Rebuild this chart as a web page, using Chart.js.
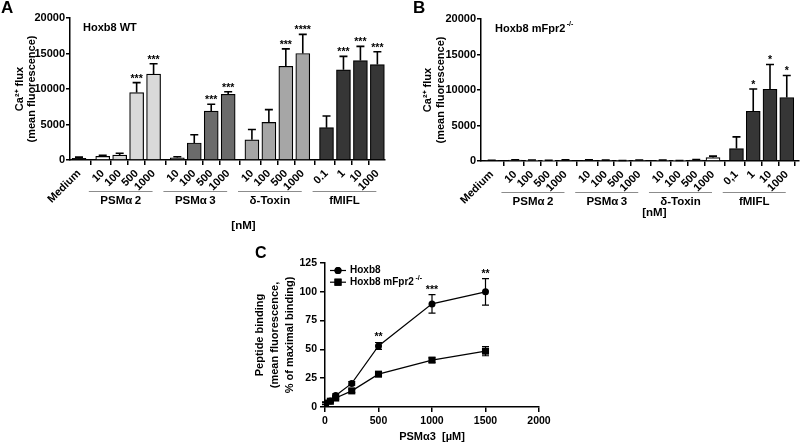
<!DOCTYPE html>
<html>
<head>
<meta charset="utf-8">
<script src="https://cdn.jsdelivr.net/npm/chart.js@4.4.1/dist/chart.umd.min.js"></script>
<style>
  body { margin: 0; background: #fff; }
  #page { position: relative; width: 800px; height: 444px; overflow: hidden; }
  canvas { position: absolute; }
  #chartA { left: 0; top: 0; }
  #chartB { left: 400px; top: 0; }
  #chartC { left: 240px; top: 240px; }
</style>
</head>
<body>
<div id="page">
  <canvas id="chartA" width="400" height="240"></canvas>
  <canvas id="chartB" width="400" height="240"></canvas>
  <canvas id="chartC" width="320" height="204"></canvas>
</div>
<script>
// --- data ---
const groupNames = ['PSMα\u20092', 'PSMα\u20093', 'δ-Toxin', 'fMIFL'];
const doseLabelsA = ['Medium', '10', '100', '500', '1000', '10', '100', '500', '1000',
  '10', '100', '500', '1000', '0.1', '1', '10', '1000'];
const doseLabelsB = ['Medium', '10', '100', '500', '1000', '10', '100', '500', '1000',
  '10', '100', '500', '1000', '0,1', '1', '10', '1000'];

// panel A: Hoxb8 WT, Ca2+ flux
const wtMeans = [250, 500, 700, 9500, 12100, 300, 2400, 6900, 9250, 2850, 5300, 13200, 15000, 4550, 12700, 14000, 13450];
const wtErrors = [150, 150, 250, 1400, 1450, 150, 1150, 950, 370, 1450, 1800, 2450, 2700, 1650, 1900, 2000, 1800];
const wtStars = ['', '', '', '***', '***', '', '', '***', '***', '', '', '***', '****', '', '***', '***', '***'];

// panel B: Hoxb8 mFpr2-/-
const koMeans = [60, 120, 90, 60, 100, 110, 70, 40, 90, 70, 40, 130, 480, 1750, 7000, 10100, 8950];
const koErrors = [50, 60, 60, 50, 60, 60, 50, 40, 50, 50, 40, 60, 200, 1650, 3150, 3500, 3100];
const koStars = ['', '', '', '', '', '', '', '', '', '', '', '', '', '', '*', '*', '*'];

const fluxTicks = [0, 5000, 10000, 15000, 20000];

// panel C: peptide binding
const concC = [5, 50, 100, 250, 500, 1000, 1500];
const bindingWT = [3.5, 5.2, 10, 20.5, 53, 89.5, 100];
const bindingWTErr = [1, 1, 1.5, 1.5, 3, 8, 11.5];
const bindingKO = [3, 5, 7.8, 14, 28.5, 40.7, 48.5];
const bindingKOErr = [1, 1, 1, 1.5, 2, 2, 4];
const starsC = ['', '', '', '', '**', '***', '**'];
const bindingTicks = [0, 25, 50, 75, 100, 125];
const concTicks = [0, 500, 1000, 1500, 2000];

// bar fills
const fillsA = ['#1e1e1e', '#ffffff', '#d9d9d9', '#d9d9d9', '#d9d9d9',
  '#6b6b6b', '#6b6b6b', '#6b6b6b', '#6b6b6b',
  '#a6a6a6', '#a6a6a6', '#a6a6a6', '#a6a6a6',
  '#363636', '#363636', '#363636', '#363636'];
const fillsB = fillsA.slice();
fillsB[12] = '#ffffff';

const FONT = '"Liberation Sans", Arial, Helvetica, sans-serif';
Chart.defaults.font.family = FONT;
Chart.defaults.font.size = 11;
Chart.defaults.font.weight = 'bold';
Chart.defaults.color = '#000';
Chart.defaults.animation = false;

// bar slots: medium, then 4 groups of 4 with a little extra space between groups
function barPositions(gap) {
  const xs = [0];
  for (let g = 0; g < 4; g++) {
    for (let i = 0; i < 4; i++) xs.push(1 + g * (4 + gap) + gap + i);
  }
  return xs;
}

function drawSup(ctx, base, sup, x, y, size) {
  ctx.textAlign = 'left';
  ctx.textBaseline = 'middle';
  ctx.font = `bold ${size}px ${FONT}`;
  ctx.fillText(base, x, y);
  const w = ctx.measureText(base).width;
  ctx.font = `bold ${Math.round(size * 0.65)}px ${FONT}`;
  ctx.fillText(sup, x + w + 1.5, y - size * 0.42);
}

function axisBorder(tickLen) {
  return {
    grid: { display: true, drawOnChartArea: false, drawTicks: true, tickLength: tickLen, color: '#000', lineWidth: 1.5 },
    border: { display: true, color: '#000', width: 1.5 }
  };
}

function barPanel(id, cfg) {
  const xs = barPositions(0.4);

  const extras = {
    id: 'extras_' + id,
    afterDatasetsDraw(chart) {
      const { ctx, chartArea: area, scales: { x, y } } = chart;
      const meta = chart.getDatasetMeta(0);
      ctx.save();

      // error bars (upper only) + significance stars
      ctx.strokeStyle = '#000';
      ctx.fillStyle = '#000';
      ctx.lineWidth = 1.6;
      meta.data.forEach((bar, i) => {
        const top = y.getPixelForValue(cfg.means[i] + cfg.errors[i]);
        ctx.beginPath();
        ctx.moveTo(bar.x, bar.y);
        ctx.lineTo(bar.x, top);
        ctx.moveTo(bar.x - 4, top);
        ctx.lineTo(bar.x + 4, top);
        ctx.stroke();
        if (cfg.stars[i]) {
          ctx.font = `bold 10.5px ${FONT}`;
          ctx.textAlign = 'center';
          ctx.textBaseline = 'alphabetic';
          ctx.fillText(cfg.stars[i], bar.x, top - 1);
        }
      });

      // group brackets under the dose labels
      groupNames.forEach((name, g) => {
        const x0 = x.getPixelForValue(xs[1 + g * 4] - 0.82);
        const x1 = x.getPixelForValue(xs[4 + g * 4] - 0.06);
        const ly = area.bottom + 31.5;
        ctx.strokeStyle = '#8c8c8c';
        ctx.lineWidth = 1;
        ctx.beginPath();
        ctx.moveTo(x0, ly);
        ctx.lineTo(x1, ly);
        ctx.stroke();
        ctx.font = `bold 11.5px ${FONT}`;
        ctx.textAlign = 'center';
        ctx.textBaseline = 'middle';
        ctx.fillText(name, (x0 + x1) / 2, area.bottom + 41);
      });

      ctx.font = `bold 11.5px ${FONT}`;
      ctx.textAlign = 'center';
      ctx.fillText('[nM]', x.getPixelForValue(9.7), area.bottom + cfg.unitDy);

      // panel letter and inner title
      ctx.font = `bold 17px ${FONT}`;
      ctx.textAlign = 'left';
      ctx.textBaseline = 'top';
      ctx.fillText(cfg.letter, cfg.letterX, 0);
      if (cfg.titleSup) {
        drawSup(ctx, cfg.title, cfg.titleSup, area.left + cfg.titleDx, area.top + 10, 11);
      } else {
        ctx.font = `bold 11px ${FONT}`;
        ctx.textBaseline = 'middle';
        ctx.fillText(cfg.title, area.left + cfg.titleDx, area.top + 10);
      }
      ctx.restore();
    }
  };

  const xAxis = Object.assign(axisBorder(5), {
    type: 'linear',
    offset: false,
    min: cfg.xMin,
    max: cfg.xMax,
    afterBuildTicks: (s) => { s.ticks = xs.map(v => ({ value: v })); },
    afterFit: (s) => { s.height = cfg.xHeight; },
    ticks: {
      autoSkip: false,
      minRotation: 45,
      maxRotation: 45,
      padding: 2,
      font: { size: 11, weight: 'bold' },
      callback: (v, i) => cfg.labels[i]
    }
  });

  const yAxis = Object.assign(axisBorder(4), {
    min: 0,
    max: 20000,
    afterBuildTicks: (s) => { s.ticks = fluxTicks.map(v => ({ value: v })); },
    afterFit: (s) => { s.width = cfg.yWidth; },
    ticks: { padding: 1, font: { size: 11, weight: 'bold' }, callback: (v) => String(v) },
    title: {
      display: true,
      text: ['Ca²⁺ flux', '(mean fluorescence)'],
      font: { size: 11, weight: 'bold', lineHeight: 1.15 },
      padding: { top: cfg.yTitlePad, bottom: 0 }
    }
  });

  new Chart(document.getElementById(id), {
    type: 'bar',
    data: {
      datasets: [{
        data: cfg.means.map((m, i) => ({ x: xs[i], y: m })),
        backgroundColor: cfg.fills,
        borderColor: '#000',
        borderWidth: 1.2,
        barThickness: 14
      }]
    },
    options: {
      responsive: false,
      layout: { padding: { top: cfg.padTop, right: cfg.padRight, left: 0, bottom: 0 } },
      plugins: { legend: { display: false }, tooltip: { enabled: false } },
      scales: { x: xAxis, y: yAxis }
    },
    plugins: [extras]
  });
}

barPanel('chartA', {
  means: wtMeans, errors: wtErrors, stars: wtStars, labels: doseLabelsA, fills: fillsA,
  letter: 'A', letterX: 1, title: 'Hoxb8 WT', titleDx: 13,
  xMin: -0.53, xMax: 18.05, xHeight: 80, yWidth: 70, yTitlePad: 13.2,
  padTop: 18, padRight: 15, unitDy: 66
});

barPanel('chartB', {
  means: koMeans, errors: koErrors, stars: koStars, labels: doseLabelsB, fills: fillsB,
  letter: 'B', letterX: 13, title: 'Hoxb8 mFpr2', titleSup: '-/-', titleDx: 14,
  xMin: -0.64, xMax: 18.33, xHeight: 79, yWidth: 81, yTitlePad: 21.7,
  padTop: 19, padRight: 1, unitDy: 52
});

// --- panel C: line chart with error bars ---
const extrasC = {
  id: 'extrasC',
  afterDatasetsDraw(chart) {
    const { ctx, chartArea: area, scales: { x, y } } = chart;
    ctx.save();
    ctx.strokeStyle = '#000';
    ctx.fillStyle = '#000';
    ctx.lineWidth = 1.2;
    [[bindingWT, bindingWTErr], [bindingKO, bindingKOErr]].forEach(([m, e]) => {
      concC.forEach((c, i) => {
        const px = x.getPixelForValue(c);
        const lo = y.getPixelForValue(m[i] - e[i]);
        const hi = y.getPixelForValue(m[i] + e[i]);
        ctx.beginPath();
        ctx.moveTo(px, lo);
        ctx.lineTo(px, hi);
        ctx.moveTo(px - 3.5, lo);
        ctx.lineTo(px + 3.5, lo);
        ctx.moveTo(px - 3.5, hi);
        ctx.lineTo(px + 3.5, hi);
        ctx.stroke();
      });
    });

    ctx.font = `bold 10.5px ${FONT}`;
    ctx.textAlign = 'center';
    ctx.textBaseline = 'alphabetic';
    concC.forEach((c, i) => {
      if (!starsC[i]) return;
      ctx.fillText(starsC[i], x.getPixelForValue(c), y.getPixelForValue(bindingWT[i] + bindingWTErr[i]) - 2);
    });

    // legend
    const rows = [['Hoxb8', '', 'circle'], ['Hoxb8 mFpr2', '-/-', 'rect']];
    rows.forEach(([label, sup, style], r) => {
      const ly = area.top + 7.5 + r * 11.7;
      const lx = area.left + 5;
      ctx.lineWidth = 1.2;
      ctx.beginPath();
      ctx.moveTo(lx, ly);
      ctx.lineTo(lx + 16, ly);
      ctx.stroke();
      Chart.helpers.drawPoint(ctx, { pointStyle: style, radius: style === 'rect' ? 5 : 3.5, borderWidth: 0 }, lx + 8, ly);
      ctx.fill();
      if (sup) {
        drawSup(ctx, label, sup, lx + 20, ly, 10);
      } else {
        ctx.font = `bold 10px ${FONT}`;
        ctx.textAlign = 'left';
        ctx.textBaseline = 'middle';
        ctx.fillText(label, lx + 20, ly);
      }
    });

    ctx.font = `bold 16px ${FONT}`;
    ctx.textAlign = 'left';
    ctx.textBaseline = 'top';
    ctx.fillText('C', 15, 6);
    ctx.restore();
  }
};

new Chart(document.getElementById('chartC'), {
  type: 'line',
  data: {
    datasets: [
      {
        label: 'Hoxb8',
        data: concC.map((c, i) => ({ x: c, y: bindingWT[i] })),
        borderColor: '#000',
        borderWidth: 1.2,
        pointStyle: 'circle',
        pointRadius: 3.5,
        pointBackgroundColor: '#000',
        pointBorderWidth: 0
      },
      {
        label: 'Hoxb8 mFpr2-/-',
        data: concC.map((c, i) => ({ x: c, y: bindingKO[i] })),
        borderColor: '#000',
        borderWidth: 1.2,
        pointStyle: 'rect',
        pointRadius: 5,
        pointBackgroundColor: '#000',
        pointBorderWidth: 0
      }
    ]
  },
  options: {
    responsive: false,
    layout: { padding: { top: 23, right: 21, left: 0, bottom: 0 } },
    plugins: { legend: { display: false }, tooltip: { enabled: false } },
    scales: {
      x: Object.assign(axisBorder(5), {
        type: 'linear',
        min: 0,
        max: 2000,
        afterBuildTicks: (s) => { s.ticks = concTicks.map(v => ({ value: v })); },
        afterFit: (s) => { s.height = 37; },
        ticks: { padding: 3, font: { size: 10.5, weight: 'bold' }, callback: (v) => String(v) },
        title: { display: true, text: 'PSMα3  [µM]', font: { size: 11, weight: 'bold' }, padding: { top: 0, bottom: 0 } }
      }),
      y: Object.assign(axisBorder(5), {
        min: 0,
        max: 125,
        afterBuildTicks: (s) => { s.ticks = bindingTicks.map(v => ({ value: v })); },
        afterFit: (s) => { s.width = 85; },
        ticks: { padding: 3, font: { size: 10.5, weight: 'bold' }, callback: (v) => String(v) },
        title: {
          display: true,
          text: ['Peptide binding', '(mean fluorescence,', '% of maximal binding)'],
          font: { size: 11, weight: 'bold', lineHeight: 1.36 },
          padding: { top: 12.5, bottom: 0 }
        }
      })
    }
  },
  plugins: [extrasC]
});
</script>
</body>
</html>
